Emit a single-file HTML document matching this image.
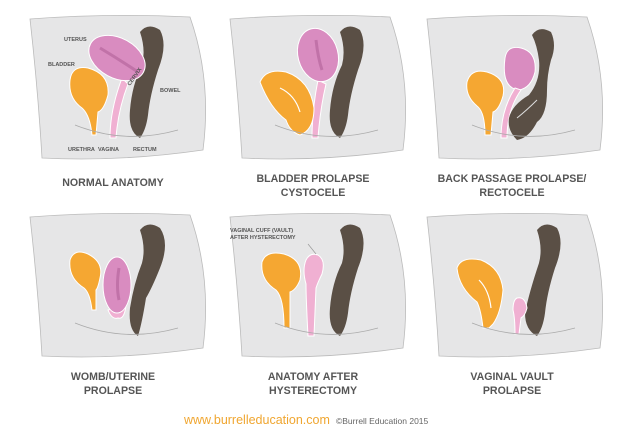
<!DOCTYPE html>
<html><head><style>
html,body{margin:0;padding:0;background:#fff;}
svg{display:block;}
.t{font-family:"Liberation Sans",sans-serif;font-weight:bold;fill:#555;font-size:10.6px;text-anchor:middle;}
.l{font-family:"Liberation Sans",sans-serif;font-weight:bold;fill:#555;font-size:5.5px;}
</style></head><body>
<svg width="624" height="437" viewBox="0 0 624 437" xmlns="http://www.w3.org/2000/svg">
<defs>
<path id="g" d="M30,19 Q110,13 190,17 Q212,80 203,150 Q120,162 42,158 Q38,90 30,19Z" fill="#e6e6e7" stroke="#bbb" stroke-width="0.8"/>
<path id="floor" d="M75,125 Q125,145 178,130" fill="none" stroke="#aaa" stroke-width="0.8"/>
</defs>

<g>
<use href="#g"/>
<path d="M140,32 Q148,22 160,30 Q168,45 158,70 Q150,95 148,115 Q146,130 140,138 Q128,132 130,110 Q132,85 142,65 Q146,50 140,32Z" fill="#5a4f45"/>
<path d="M70,80 Q72,65 88,68 Q110,74 108,95 Q104,110 98,112 L96,135 L92,135 Q90,115 82,108 Q68,98 70,80Z" fill="#f5a732" stroke="#fff" stroke-width="1"/>
<path d="M122,78 L128,84 Q118,110 116,138 L110,138 Q110,110 122,78Z" fill="#f0b0d2" stroke="#fff" stroke-width="1"/>
<ellipse cx="117" cy="58" rx="30" ry="20" transform="rotate(28 117 58)" fill="#d98cc0" stroke="#fff" stroke-width="1"/>
<path d="M100,48 Q120,60 138,72" stroke="#c172a8" stroke-width="3" fill="none"/>
<use href="#floor"/>
<text class="l" x="64" y="41">UTERUS</text>
<text class="l" x="48" y="66">BLADDER</text>
<text class="l" x="160" y="92">BOWEL</text>
<text class="l" x="130" y="86" transform="rotate(-55 130 86)">CERVIX</text>
<text class="l" x="68" y="151">URETHRA</text>
<text class="l" x="98" y="151">VAGINA</text>
<text class="l" x="133" y="151">RECTUM</text>
<text class="t" x="113" y="186">NORMAL ANATOMY</text>
</g>

<g transform="translate(200,0)">
<use href="#g"/>
<path d="M140,32 Q148,22 160,30 Q168,45 158,70 Q150,95 148,115 Q146,130 140,138 Q128,132 130,110 Q132,85 142,65 Q146,50 140,32Z" fill="#5a4f45"/>
<path d="M118,80 L126,84 Q120,110 118,138 L112,138 Q112,110 118,80Z" fill="#f0b0d2" stroke="#fff" stroke-width="1"/>
<ellipse cx="118" cy="55" rx="20" ry="27" transform="rotate(-15 118 55)" fill="#d98cc0" stroke="#fff" stroke-width="1"/>
<path d="M116,40 Q118,58 122,70" stroke="#c172a8" stroke-width="3" fill="none"/>
<path d="M60,82 Q66,68 86,72 Q110,80 114,108 Q114,130 100,135 Q90,132 86,120 Q70,108 60,82Z" fill="#f5a732" stroke="#fff" stroke-width="1"/>
<path d="M80,88 Q95,95 100,112" stroke="#fff" stroke-width="1.2" fill="none"/>
<use href="#floor"/>
<text class="t" x="113" y="182">BLADDER PROLAPSE</text>
<text class="t" x="113" y="196">CYSTOCELE</text>
</g>

<g transform="translate(397,0)">
<use href="#g"/>
<path d="M108,58 Q110,45 124,48 Q140,52 138,72 Q134,88 122,90 Q104,88 108,58Z" fill="#d98cc0" stroke="#fff"/>
<path d="M118,88 L124,90 Q110,110 110,138 L104,138 Q104,110 118,88Z" fill="#f0b0d2" stroke="#fff"/>
<path d="M135,35 Q142,25 154,32 Q160,45 154,60 Q150,75 150,90 Q150,115 140,122 Q132,138 120,140 Q110,130 112,118 Q115,105 132,95 Q144,80 142,60 Q140,45 135,35Z" fill="#5a4f45"/>
<path d="M140,100 Q130,110 120,118" stroke="#ddd" stroke-width="1" fill="none"/>
<path d="M70,82 Q74,68 90,72 Q110,78 106,96 Q102,110 96,112 L94,135 L88,135 Q88,112 80,106 Q68,96 70,82Z" fill="#f5a732" stroke="#fff"/>
<use href="#floor"/>
<text class="t" x="115" y="182">BACK PASSAGE PROLAPSE/</text>
<text class="t" x="115" y="196">RECTOCELE</text>
</g>

<g transform="translate(0,198)">
<use href="#g"/>
<path d="M140,32 Q148,22 160,30 Q170,45 160,70 Q152,90 146,100 Q142,125 138,138 Q128,132 130,110 Q134,85 142,65 Q146,50 140,32Z" fill="#5a4f45"/>
<path d="M70,62 Q74,50 88,56 Q104,64 100,80 Q98,90 96,92 L96,112 L92,112 Q90,95 84,90 Q68,80 70,62Z" fill="#f5a732" stroke="#fff"/>
<path d="M108,112 Q112,122 118,120 Q124,122 126,108Z" fill="#f0b0d2" stroke="#fff"/>
<ellipse cx="117" cy="87" rx="14" ry="28" fill="#d98cc0" stroke="#fff"/>
<path d="M119,70 Q116,88 119,102" stroke="#c172a8" stroke-width="3" fill="none"/>
<use href="#floor"/>
<text class="t" x="113" y="182">WOMB/UTERINE</text>
<text class="t" x="113" y="196">PROLAPSE</text>
</g>

<g transform="translate(200,198)">
<use href="#g"/>
<path d="M140,32 Q148,22 160,30 Q168,45 158,70 Q150,95 148,115 Q146,130 140,138 Q128,132 130,110 Q132,85 142,65 Q146,50 140,32Z" fill="#5a4f45"/>
<path d="M62,64 Q66,52 84,56 Q104,62 100,82 Q96,92 90,94 L90,130 L84,130 Q84,100 76,92 Q60,82 62,64Z" fill="#f5a732" stroke="#fff"/>
<path d="M106,62 Q110,54 118,57 Q126,62 122,76 Q118,84 116,90 L114,138 L108,138 Q106,100 106,86 Q102,72 106,62Z" fill="#f0b0d2" stroke="#fff"/>
<path d="M108,46 L116,56" stroke="#999" stroke-width="0.7"/>
<text class="l" x="30" y="34">VAGINAL CUFF (VAULT)</text>
<text class="l" x="30" y="41">AFTER HYSTERECTOMY</text>
<use href="#floor"/>
<text class="t" x="113" y="182">ANATOMY AFTER</text>
<text class="t" x="113" y="196">HYSTERECTOMY</text>
</g>

<g transform="translate(397,198)">
<use href="#g"/>
<path d="M140,32 Q148,22 160,30 Q168,45 158,70 Q150,95 148,115 Q146,130 140,138 Q128,132 128,115 Q132,95 142,65 Q146,50 140,32Z" fill="#5a4f45"/>
<path d="M60,70 Q64,58 84,62 Q104,70 106,92 Q104,115 96,126 L92,130 L86,130 Q84,112 80,104 Q62,90 60,70Z" fill="#f5a732" stroke="#fff"/>
<path d="M82,82 Q92,92 94,110" stroke="#fff" stroke-width="1.2" fill="none"/>
<path d="M120,100 Q128,98 130,110 Q128,118 124,120 L122,136 L118,136 Q118,120 116,112 Q116,102 120,100Z" fill="#f0b0d2" stroke="#fff"/>
<use href="#floor"/>
<text class="t" x="115" y="182">VAGINAL VAULT</text>
<text class="t" x="115" y="196">PROLAPSE</text>
</g>

<text x="184" y="424" font-family="Liberation Sans,sans-serif" font-size="12.5" fill="#f0a630">www.burrelleducation.com</text>
<text x="336" y="424" font-family="Liberation Sans,sans-serif" font-size="8.5" fill="#666">©Burrell Education 2015</text>
</svg>
</body></html>
